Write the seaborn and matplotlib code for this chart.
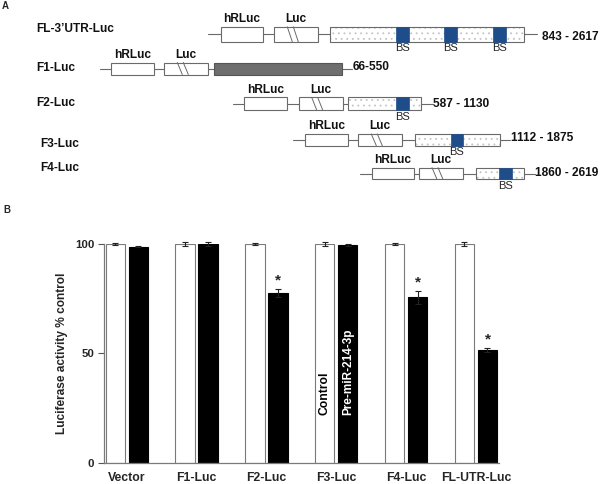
import numpy as np
import pandas as pd
import matplotlib
matplotlib.use('Agg')
import matplotlib.pyplot as plt
import seaborn as sns
from matplotlib.patches import Rectangle
from matplotlib.container import BarContainer

# ---------------- data ----------------
constructs = ['Vector', 'F1-Luc', 'F2-Luc', 'F3-Luc', 'F4-Luc', 'FL-UTR-Luc']
conditions = ['Control', 'Pre-miR-214-3p']
control_vals = [100.0, 100.0, 100.0, 100.0, 100.0, 100.0]
premir_vals = [98.8, 100.0, 77.7, 99.5, 75.6, 51.5]
control_err = [0.5, 1.0, 0.5, 1.0, 0.5, 1.0]
premir_err = [0.3, 1.0, 1.8, 0.5, 3.0, 1.0]
significant = [False, False, True, False, True, True]
yticks = [0, 50, 100]
ylabel = 'Luciferase activity % control'

map_names = ['FL-3\u2019UTR-Luc', 'F1-Luc', 'F2-Luc', 'F3-Luc', 'F4-Luc']
map_ranges = ['843 - 2617', '66-550', '587 - 1130', '1112 - 1875', '1860 - 2619']
map_coding = [False, True, False, False, False]
map_n_bs = [3, 0, 1, 1, 1]

# ---------------- style ----------------
sns.set_theme(style='white')
plt.rcParams['font.family'] = ['Liberation Sans', 'DejaVu Sans']
plt.rcParams['hatch.linewidth'] = 0.6

fig = plt.figure(figsize=(6.01, 4.84), dpi=100)

# ---------------- panel A (schematic, pixel layout) ----------------
axA = fig.add_axes([0, 0, 1, 1])
axA.set_xlim(0, 601)
axA.set_ylim(484, 0)
axA.axis('off')

EDGE = '#6a6a6a'
BLUE = '#1f4d8a'
layout = [
    dict(name=(36, 29), yc=34.3, h=15, l0=208, hr=(220.7, 263.3), luc=(274.3, 318.3),
         utr=(330, 524), bs=[396, 444.3, 493], bsw=12.7, l1=537, lab=(542, 36.7)),
    dict(name=(36.7, 68), yc=68.5, h=12, l0=100, hr=(111, 154.3), luc=(164.3, 208.3),
         utr=(214, 341.7), bs=[], bsw=0, l1=351.7, lab=(352.7, 66.7)),
    dict(name=(36.7, 103.3), yc=103.7, h=12.7, l0=232.7, hr=(244.3, 287.3), luc=(298.7, 342.7),
         utr=(348.3, 420.7), bs=[396], bsw=13.3, l1=433, lab=(433.3, 104)),
    dict(name=(40, 144.3), yc=139.8, h=11.7, l0=293, hr=(305, 347.7), luc=(358.3, 401.7),
         utr=(415, 500), bs=[450.7], bsw=12, l1=510, lab=(510.7, 138.3)),
    dict(name=(40, 168.3), yc=173.5, h=11.7, l0=360, hr=(371.7, 414.3), luc=(419, 462.7),
         utr=(476, 524.3), bs=[499.3], bsw=12.4, l1=535, lab=(535.3, 173.3)),
]

fs_map = 8.6
for i, L in enumerate(layout):
    yc, h = L['yc'], L['h']
    top, bot = yc - h / 2, yc + h / 2
    axA.text(L['name'][0], L['name'][1], map_names[i], ha='left', va='center',
             fontsize=fs_map, fontweight='bold', color='#111111')
    axA.plot([L['l0'], L['l1']], [yc, yc], color=EDGE, lw=0.8, zorder=1)
    # hRLuc / Luc boxes
    for (x0, x1), lab in [(L['hr'], 'hRLuc'), (L['luc'], 'Luc')]:
        axA.add_patch(Rectangle((x0, top), x1 - x0, h, facecolor='white',
                                edgecolor=EDGE, lw=0.8, zorder=2))
        axA.text((x0 + x1) / 2, top - 1.5, lab, ha='center', va='bottom',
                 fontsize=fs_map, fontweight='bold', color='#111111')
    lx = L['luc'][0]
    for dx in (13, 19):
        axA.plot([lx + dx, lx + dx + 5], [top, bot], color=EDGE, lw=0.7, zorder=3)
    # 3'UTR / coding
    x0, x1 = L['utr']
    if map_coding[i]:
        axA.add_patch(Rectangle((x0, top), x1 - x0, h, facecolor='#6e6e6e',
                                edgecolor='#555555', lw=0.8, zorder=2))
    else:
        axA.add_patch(Rectangle((x0, top), x1 - x0, h, facecolor='white',
                                edgecolor='#c4c4c4', hatch='...', lw=0, zorder=2))
        axA.add_patch(Rectangle((x0, top), x1 - x0, h, facecolor='none',
                                edgecolor=EDGE, lw=0.8, zorder=3))
        for bx in L['bs'][:map_n_bs[i]]:
            axA.add_patch(Rectangle((bx, top), L['bsw'], h, facecolor=BLUE,
                                    edgecolor=BLUE, lw=0.5, zorder=4))
            axA.text(bx + L['bsw'] / 2, bot + 1.5, 'BS', ha='center', va='top',
                     fontsize=8, color='#222222')
    axA.text(L['lab'][0], L['lab'][1], map_ranges[i], ha='left', va='center',
             fontsize=fs_map, fontweight='bold', color='#111111')

axA.text(2, 6, 'A', ha='left', va='center', fontsize=7, fontweight='bold')
axA.text(3, 210, 'B', ha='left', va='center', fontsize=7, fontweight='bold')

# ---------------- panel B (bar chart) ----------------
df = pd.DataFrame({
    'construct': constructs * 2,
    'condition': [conditions[0]] * len(constructs) + [conditions[1]] * len(constructs),
    'value': control_vals + premir_vals,
})
axB = fig.add_axes([104 / 601, 21.3 / 484, 395 / 601, 218.7 / 484])
sns.barplot(data=df, x='construct', y='value', hue='condition', order=constructs,
            hue_order=conditions, palette=['white', 'black'], width=0.66, gap=0.164,
            errorbar=None, legend=False, ax=axB, saturation=1)
bar_containers = [c for c in axB.containers if isinstance(c, BarContainer)]
centers = []
for c, cont in enumerate(bar_containers):
    xs = []
    for bar in cont:
        bar.set_edgecolor('#7a7a7a' if c == 0 else 'black')
        bar.set_linewidth(0.8)
        xs.append(bar.get_x() + bar.get_width() / 2)
    centers.append(xs)

ctrl_xs, pre_xs = centers
for xs, vals, errs in [(ctrl_xs, control_vals, control_err), (pre_xs, premir_vals, premir_err)]:
    axB.errorbar(xs, vals, yerr=errs, fmt='none', ecolor='#222222', elinewidth=0.8,
                 capsize=2.2, capthick=0.8, zorder=5, clip_on=False)
for x, v, e, s in zip(pre_xs, premir_vals, premir_err, significant):
    if s:
        axB.annotate('*', (x, v + e), xytext=(0, 1), textcoords='offset points',
                     ha='center', va='bottom', fontsize=11, fontweight='bold')

k = constructs.index('F3-Luc')
axB.text(ctrl_xs[k], 21.7, conditions[0], rotation=90, ha='center', va='bottom',
         fontsize=8.7, fontweight='bold', color='black')
axB.text(pre_xs[k], 21.7, conditions[1], rotation=90, ha='center', va='bottom',
         fontsize=8.5, fontweight='bold', color='white')

axB.set_xlim(-0.326, 5.33)
axB.set_ylim(0, 100)
axB.set_yticks(yticks)
axB.set_xlabel('')
axB.set_ylabel(ylabel, fontsize=8.6, fontweight='bold', labelpad=5)
sns.despine(ax=axB)
for sp in ['left', 'bottom']:
    axB.spines[sp].set_color('#7a7a7a')
    axB.spines[sp].set_linewidth(0.9)
axB.tick_params(axis='y', direction='out', length=4, width=0.8, color='#555555',
                pad=3, labelsize=8.2, left=True)
axB.tick_params(axis='x', length=0, pad=6.5, labelsize=8.8)
for t in axB.get_xticklabels() + axB.get_yticklabels():
    t.set_fontweight('bold')
axB.patch.set_alpha(0)

fig.savefig('out.png', dpi=100)
